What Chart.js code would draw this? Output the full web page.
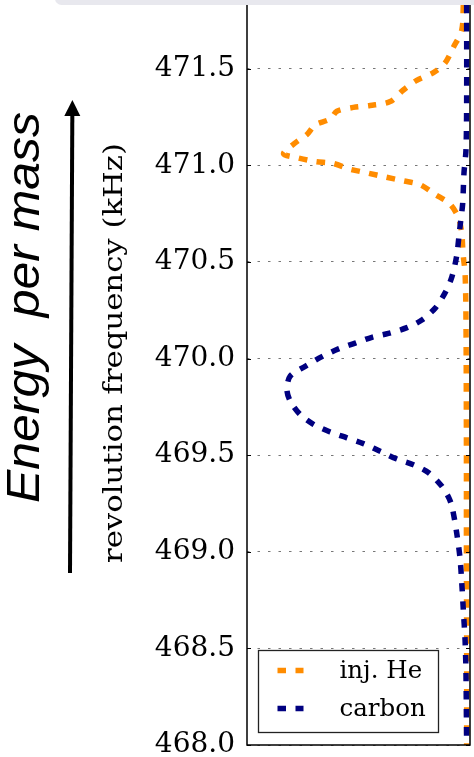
<!DOCTYPE html>
<html><head><meta charset="utf-8">
<script src="https://cdn.jsdelivr.net/npm/chart.js@4.4.1/dist/chart.umd.min.js"></script>
<style>
html,body{margin:0;padding:0;background:#fff;}
#wrap{position:relative;width:474px;height:757px;overflow:hidden;background:#fff;}
#band{position:absolute;left:55px;top:-8px;width:440px;height:13px;background:#e8e8ee;border-radius:8px;}
canvas{display:block;}
</style></head><body>
<div id="wrap"><canvas id="c" width="474" height="757"></canvas><div id="band"></div></div>
<script>
// ---- data ----
const yTitle = 'revolution frequency (kHz)';
const sideLabel = 'Energy  per mass';
const seriesLabels = ['inj. He', 'carbon'];
const yTickValues = [468.0, 468.5, 469.0, 469.5, 470.0, 470.5, 471.0, 471.5];

const freqHe = [471.83, 471.70, 471.61, 471.53, 471.48, 471.44, 471.39, 471.33, 471.31, 471.30,
                471.28, 471.24, 471.21, 471.16, 471.11, 471.06, 471.04, 471.02, 471.01, 470.98,
                470.96, 470.94, 470.92, 470.90, 470.85, 470.80, 470.73, 470.65, 470.58, 470.53,
                470.44, 470.20, 469.50, 469.00, 468.50, 468.00];
const intensityHe = [3.0, 3.7, 7.5, 11.2, 16.4, 23.9, 29.9, 35.8, 44.8, 52.3,
                     59.7, 62.7, 69.4, 73.1, 79.1, 83.6, 77.6, 69.4, 61.4, 53.7,
                     45.7, 38.1, 30.0, 22.4, 15.7, 9.0, 5.2, 3.7, 3.3, 3.0,
                     2.2, 1.8, 1.6, 1.6, 1.5, 1.5];

const freqC = [471.83, 471.34, 471.08, 470.96, 470.80, 470.71, 470.65, 470.53, 470.42, 470.34,
               470.26, 470.20, 470.16, 470.13, 470.11, 470.08, 470.05, 470.01, 469.96, 469.91,
               469.84, 469.78, 469.71, 469.66, 469.62, 469.59, 469.56, 469.52, 469.48, 469.45,
               469.41, 469.34, 469.28, 469.23, 469.10, 468.97, 468.84, 468.70, 468.54, 468.37, 468.00];
const intensityC = [1.5, 1.5, 1.8, 2.7, 3.3, 4.2, 4.8, 6.0, 8.2, 11.2,
                    15.7, 21.6, 28.3, 36.6, 44.0, 51.5, 59.0, 66.4, 73.9, 80.6,
                    82.1, 80.6, 76.1, 70.2, 62.7, 55.2, 47.8, 40.3, 32.8, 25.4,
                    18.7, 12.7, 9.5, 8.0, 6.0, 4.5, 3.7, 3.0, 2.2, 1.8, 1.5];

const colorHe = '#ff8c00';
const colorC = '#000080';

const toPoints = (xs, ys) => ys.map((f, i) => ({x: xs[i], y: f}));

const SERIF = '"DejaVu Serif", serif';

function drawRotated(ctx, text, font, cx, cy, targetLen) {
  ctx.save();
  ctx.fillStyle = '#000';
  ctx.font = font;
  ctx.translate(cx, cy);
  ctx.rotate(-Math.PI / 2);
  const w = ctx.measureText(text).width;
  ctx.scale(targetLen / w, 1);
  ctx.textAlign = 'center';
  ctx.textBaseline = 'alphabetic';
  ctx.fillText(text, 0, 0);
  ctx.restore();
}

const decor = {
  id: 'decor',
  afterDatasetsDraw(chart) {
    const {ctx, chartArea: a, scales: {y}} = chart;
    ctx.save();
    ctx.strokeStyle = '#000';
    ctx.lineWidth = 1.5;
    ctx.beginPath();
    ctx.moveTo(a.left, 0);
    ctx.lineTo(a.left, a.bottom);
    ctx.lineTo(a.right, a.bottom);
    ctx.lineTo(a.right, 0);
    ctx.stroke();
    ctx.lineWidth = 1.2;
    y.ticks.forEach(t => {
      const py = Math.round(y.getPixelForValue(t.value)) + 0.5;
      ctx.beginPath();
      ctx.moveTo(a.left, py); ctx.lineTo(a.left + 4, py);
      ctx.moveTo(a.right, py); ctx.lineTo(a.right - 4, py);
      ctx.stroke();
    });
    const bx = a.left + 11.5, by = a.bottom - 94.5, bw = 180, bh = 82;
    ctx.fillStyle = '#fff';
    ctx.fillRect(bx, by, bw, bh);
    ctx.strokeStyle = '#222';
    ctx.lineWidth = 1.3;
    ctx.strokeRect(bx, by, bw, bh);
    chart.data.datasets.forEach((ds, i) => {
      const ly = by + 20 + i * 38;
      ctx.save();
      ctx.strokeStyle = ds.borderColor;
      ctx.lineWidth = ds.borderWidth;
      ctx.setLineDash(ds.borderDash);
      ctx.lineCap = 'butt';
      ctx.beginPath();
      ctx.moveTo(bx + 19, ly); ctx.lineTo(bx + 45, ly);
      ctx.stroke();
      ctx.restore();
      ctx.fillStyle = '#000';
      ctx.font = '24.5px ' + SERIF;
      ctx.textBaseline = 'middle';
      ctx.textAlign = 'left';
      ctx.fillText(ds.label, bx + 81, ly + 1);
    });
    ctx.restore();
  },
  afterDraw(chart) {
    const {ctx} = chart;
    drawRotated(ctx, yTitle, '26px ' + SERIF, 122, 353, 420);
    drawRotated(ctx, sideLabel, 'italic 46px "Liberation Sans", Arial, sans-serif', 39, 307.5, 391);

    ctx.save();
    const x0 = 70, y0 = 573, x1 = 72.4, y1 = 100;
    const len = Math.hypot(x1 - x0, y1 - y0);
    const ux = (x1 - x0) / len, uy = (y1 - y0) / len;
    const hl = 16, hw = 8;
    const bxp = x1 - ux * hl, byp = y1 - uy * hl;
    ctx.strokeStyle = '#000';
    ctx.lineWidth = 4;
    ctx.beginPath();
    ctx.moveTo(x0, y0); ctx.lineTo(bxp, byp);
    ctx.stroke();
    ctx.fillStyle = '#000';
    ctx.beginPath();
    ctx.moveTo(x1, y1);
    ctx.lineTo(bxp - uy * hw, byp + ux * hw);
    ctx.lineTo(bxp + uy * hw, byp - ux * hw);
    ctx.closePath();
    ctx.fill();
    ctx.restore();
  }
};

new Chart(document.getElementById('c'), {
  type: 'line',
  data: {
    datasets: [
      {label: seriesLabels[0], data: toPoints(intensityHe, freqHe), borderColor: colorHe,
       borderWidth: 5.5, borderDash: [8.5, 9.5], borderCapStyle: 'butt', pointRadius: 0,
       tension: 0.3, fill: false, order: 2},
      {label: seriesLabels[1], data: toPoints(intensityC, freqC), borderColor: colorC,
       borderWidth: 5.5, borderDash: [8.5, 9.5], borderCapStyle: 'butt', pointRadius: 0,
       tension: 0.3, fill: false, order: 1}
    ]
  },
  options: {
    responsive: false,
    animation: false,
    devicePixelRatio: 1,
    layout: {padding: {top: 5, bottom: 12, left: 0, right: 4}},
    plugins: {legend: {display: false}, tooltip: {enabled: false}, title: {display: false}},
    scales: {
      x: {type: 'linear', display: false, reverse: true, min: 0, max: 100},
      y: {
        type: 'linear', min: 468.0, max: 471.83,
        afterBuildTicks(scale) { scale.ticks = yTickValues.map(v => ({value: v})); },
        afterFit(scale) { scale.width = 247; scale.paddingTop = 0; scale.paddingBottom = 0; },
        ticks: {
          autoSkip: false, padding: 12, color: '#000',
          font: {family: 'DejaVu Serif', size: 28},
          callback: v => Number(v).toFixed(1)
        },
        grid: {color: '#777', lineWidth: 1, drawTicks: false},
        border: {display: false, dash: [2.5, 8]}
      }
    }
  },
  plugins: [decor]
});
</script>
</body></html>
